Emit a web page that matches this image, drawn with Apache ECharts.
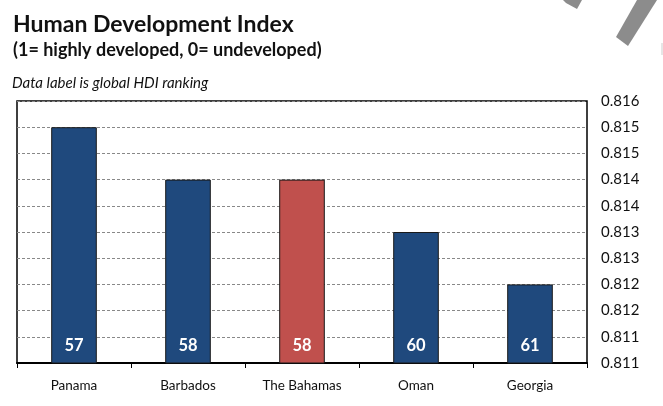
<!DOCTYPE html>
<html>
<head>
<meta charset="utf-8">
<script src="https://cdn.jsdelivr.net/npm/echarts@6/dist/echarts.min.js"></script>
<style>
html,body{margin:0;padding:0;background:#fff;}
#chart{width:663px;height:406px;}
</style>
</head>
<body>
<div id="chart"></div>
<script>
var categories = ['Panama', 'Barbados', 'The Bahamas', 'Oman', 'Georgia'];
var hdiValues = [0.8155, 0.8145, 0.8145, 0.8135, 0.8125];
var hdiRanks = [57, 58, 58, 60, 61];
var highlightCountry = 'The Bahamas';
var yTickLabels = ['0.811', '0.811', '0.812', '0.812', '0.813', '0.813', '0.814', '0.814', '0.815', '0.815', '0.816'];

var FONT = 'Lato, "Open Sans", sans-serif';
var BLUE = '#1F497D';
var RED = '#C0504D';

var chart = echarts.init(document.getElementById('chart'), null, {renderer: 'canvas'});

var barData = hdiValues.map(function (v, i) {
  return {
    value: v,
    itemStyle: {color: categories[i] === highlightCountry ? RED : BLUE},
    label: {formatter: String(hdiRanks[i])}
  };
});

var option = {
  backgroundColor: '#fff',
  animation: false,
  grid: {
    left: 17, right: 76, top: 101, bottom: 43,
    show: true, borderColor: '#000', borderWidth: 1.5, backgroundColor: 'transparent'
  },
  xAxis: {
    type: 'category',
    data: categories,
    axisLine: {show: true, lineStyle: {color: '#000', width: 2}},
    axisTick: {show: true, length: 5, lineStyle: {color: '#000', width: 1}},
    axisLabel: {color: '#111', fontFamily: FONT, fontSize: 13.5, margin: 16},
    splitLine: {show: false}
  },
  yAxis: {
    type: 'value',
    position: 'right',
    min: 0.811,
    max: 0.816,
    interval: 0.0005,
    axisLine: {show: false},
    axisTick: {show: false},
    axisLabel: {
      color: '#111', fontFamily: FONT, fontSize: 15, margin: 14,
      formatter: function (v, idx) { return yTickLabels[idx] !== undefined ? yTickLabels[idx] : ''; }
    },
    splitLine: {show: true, lineStyle: {color: '#888', type: [3, 2], width: 1}}
  },
  series: [{
    type: 'bar',
    data: barData,
    barWidth: '40%',
    itemStyle: {borderColor: '#1a1a1a', borderWidth: 1},
    label: {
      show: true,
      position: 'insideBottom',
      distance: 9,
      color: '#fff',
      fontFamily: FONT,
      fontWeight: 'bold',
      fontSize: 16.5
    }
  }],
  graphic: [
    {type: 'text', left: 13, top: 13, style: {text: 'Human Development Index', font: 'bold 23px ' + FONT, fill: '#111'}},
    {type: 'text', left: 13, top: 41, style: {text: '(1= highly developed, 0= undeveloped)', font: 'bold 18px ' + FONT, fill: '#111'}},
    {type: 'text', left: 12, top: 76, style: {text: 'Data label is global HDI ranking', font: 'italic 15px ' + FONT, fill: '#111'}},
    {type: 'polygon', shape: {points: [[563, 0], [582, 0], [577, 9], [566, 3]]}, style: {fill: '#8c8c8c'}},
    {type: 'polygon', shape: {points: [[637, 0], [657, 0], [628, 46], [616, 37]]}, style: {fill: '#8c8c8c'}},
    {type: 'rect', shape: {x: 661, y: 43, width: 2, height: 12}, style: {fill: '#e6e6e6'}}
  ]
};

chart.setOption(option);
</script>
</body>
</html>
